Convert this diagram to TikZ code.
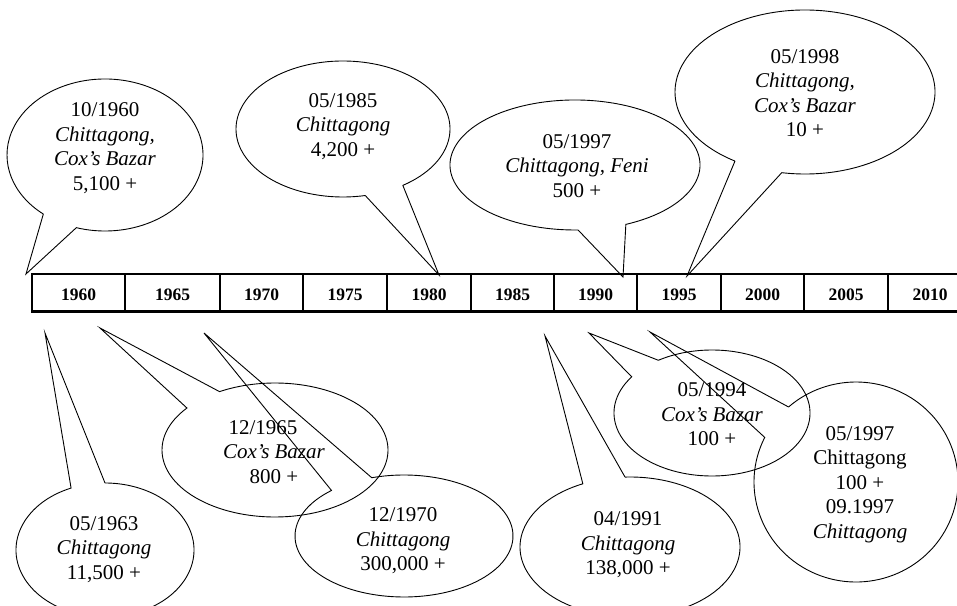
\documentclass[tikz,border=0pt]{standalone}
\usepackage{fontspec}
\setmainfont{Liberation Serif}
\usetikzlibrary{calc}
\tikzset{
  bubble/.style={draw=black, line width=0.9pt, line join=miter},
  bubbletext/.style={align=center, inner sep=0pt, yshift=-2pt, font=\fontsize{21}{24.5}\selectfont},
  yearcell/.style={draw=black, line width=1.4pt, minimum height=37pt, inner sep=0pt,
    text height=17pt, text depth=0pt, font=\fontsize{17.5}{20}\selectfont\bfseries},
}
\newcommand\bubble[5]{%
  \draw[bubble] ($(#1-c)+(#4:#2 and #3)$) -- (#1-tip) -- ($(#1-c)+(#5:#2 and #3)$)
    arc[start angle=#5, end angle=#4+360, x radius=#2, y radius=#3];}
\begin{document}
\begin{tikzpicture}[x=1pt, y=1pt]
\useasboundingbox (0,0) rectangle (957,605);
\clip (0,0) rectangle (957,605);

% timeline
\foreach \l/\r/\yr in {32/125/1960, 125/220/1965, 220/303/1970, 303/387/1975,
  387/471/1980, 471/554/1985, 554/637/1990, 637/721/1995, 721/804/2000,
  804/888/2005, 888/972/2010} {
  \node[yearcell, minimum width={(\r-\l)*1pt}] (y\yr) at ({(\l+\r)/2}, 312.5) {\yr};
}
\draw[line width=2.6pt] (y1960.south west) -- (y2010.south east);

% centres and tips of the callouts
\coordinate (A-c) at (105,450);  \coordinate (A-tip) at (26,331);
\coordinate (B-c) at (343,476);  \coordinate (B-tip) at (439,330);
\coordinate (C-c) at (575,440);  \coordinate (C-tip) at (623,328);
\coordinate (D-c) at (805,513);  \coordinate (D-tip) at (687,329);
\coordinate (E-c) at (105,55);   \coordinate (E-tip) at (45,272);
\coordinate (F-c) at (275,155);  \coordinate (F-tip) at (100,277);
\coordinate (G-c) at (404,69);   \coordinate (G-tip) at (204,272);
\coordinate (H-c) at (630,58);   \coordinate (H-tip) at (545,269);
\coordinate (I-c) at (712,192);  \coordinate (I-tip) at (589,272);
\coordinate (J-c) at (856,123);  \coordinate (J-tip) at (650,273);

\bubble{A}{98}{76}{231}{253}
\bubble{B}{107}{68}{282}{304}
\bubble{C}{125}{65}{271.4}{294}
\bubble{D}{130}{82}{237.4}{259.7}
\bubble{E}{89}{67}{90}{112.4}
\bubble{F}{113}{67}{119.4}{141.2}
\bubble{G}{109}{61}{107.2}{131.7}
\bubble{H}{110}{70}{92.6}{115.4}
\bubble{I}{98}{63}{123.2}{145}
\bubble{J}{102}{100}{131.4}{153.5}

% texts
\node[bubbletext] (tA) at (105,459) {10/1960\\ \textit{Chittagong,}\\ \textit{Cox's Bazar}\\ 5,100 +};
\node[bubbletext] (tB) at (343,480.5) {05/1985\\ \textit{Chittagong}\\ 4,200 +};
\node[bubbletext] (tC) at (577,441) {05/1997\\ \textit{Chittagong, Feni}\\ 500 +};
\node[bubbletext] (tD) at (805,514) {05/1998\\ \textit{Chittagong,}\\ \textit{Cox's Bazar}\\ 10 +};
\node[bubbletext] (tE) at (104,57.5) {05/1963\\ \textit{Chittagong}\\ 11,500 +};
\node[bubbletext] (tF) at (274,155) {\hspace*{-22pt}12/1965\\ \textit{Cox's Bazar}\\ 800 +};
\node[bubbletext] (tG) at (403,66) {12/1970\\ \textit{Chittagong}\\ 300,000 +};
\node[bubbletext] (tH) at (628,62) {04/1991\\ \textit{Chittagong}\\ 138,000 +};
\node[bubbletext] (tI) at (712,192.5) {05/1994\\ \textit{Cox's Bazar}\\ 100 +};
\node[bubbletext] (tJ) at (860,122.5) {05/1997\\ Chittagong\\ 100 +\\ 09.1997\\ \textit{Chittagong}};
\end{tikzpicture}
\end{document}
